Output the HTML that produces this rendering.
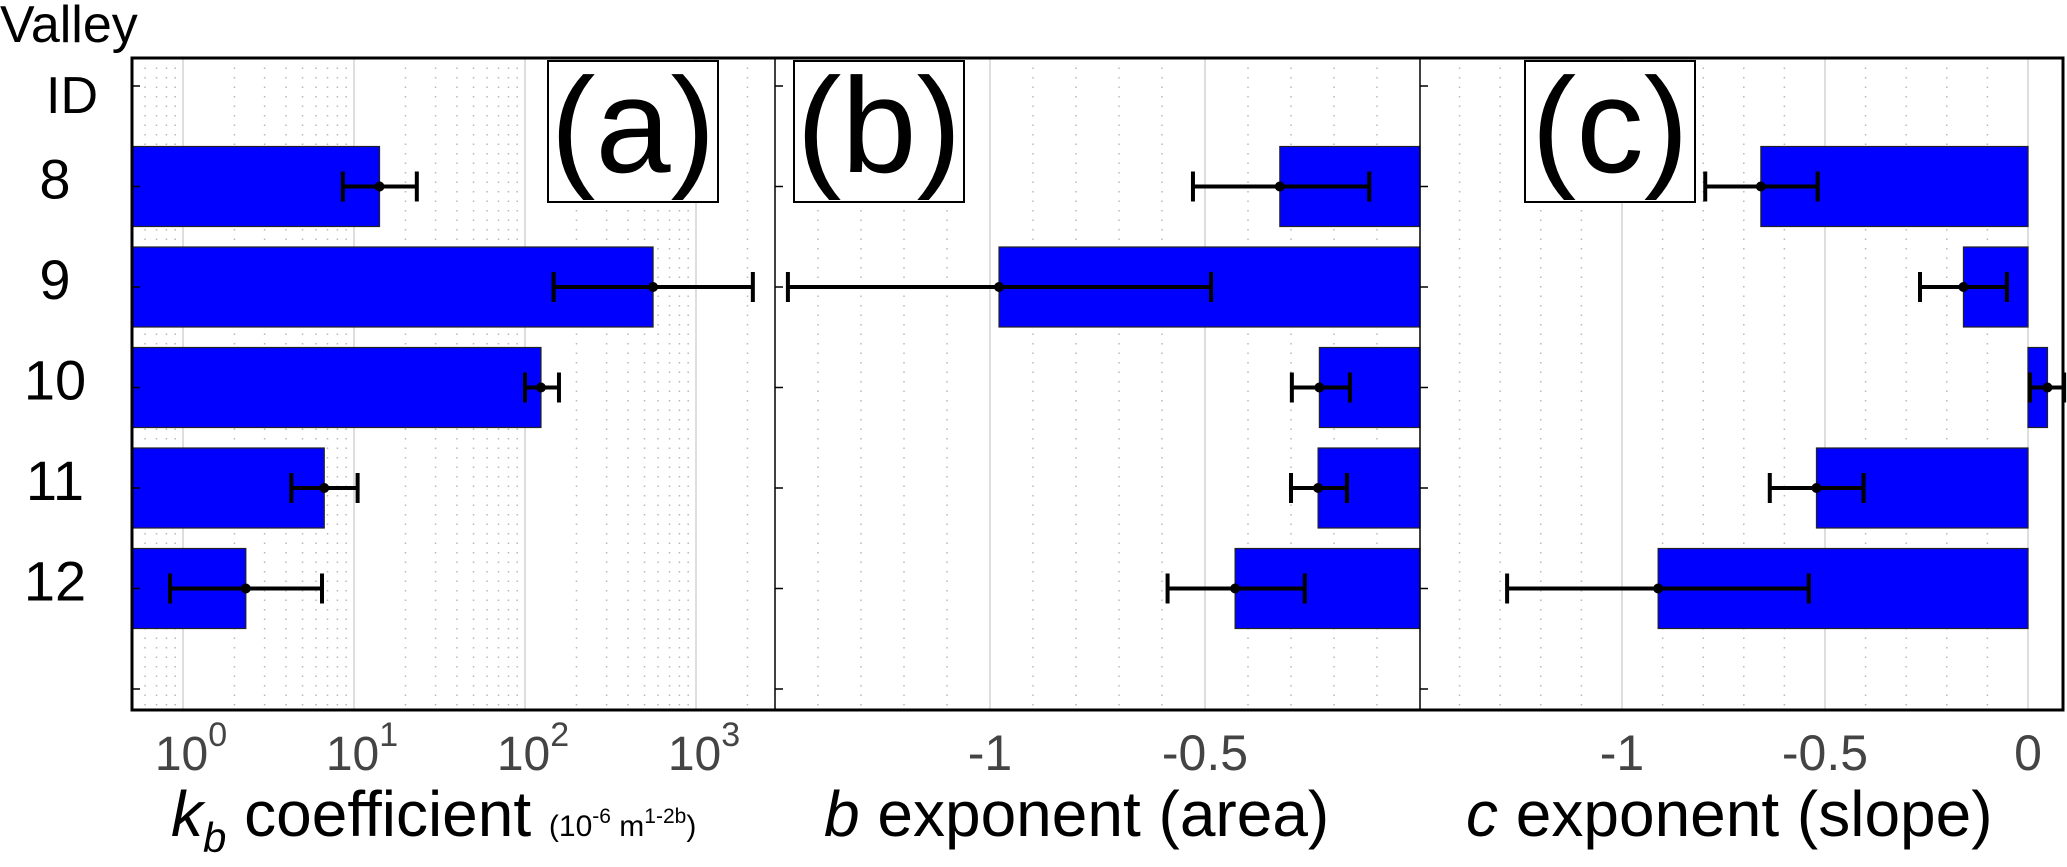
<!DOCTYPE html>
<html><head><meta charset="utf-8">
<style>
html,body{margin:0;padding:0;background:#fff;}
svg{display:block;font-family:"Liberation Sans",sans-serif;}
</style></head>
<body>
<svg id="chart" width="2067" height="867" viewBox="0 0 2067 867" xmlns="http://www.w3.org/2000/svg">
<g id="grid"></g>
<g id="bars"></g>
<g id="errs"></g>
<g id="axes"></g>
<g id="labels"></g>
</svg>
<script>
const valleyIds = ["8","9","10","11","12"];
const kbValues = [14.1, 561, 124, 6.7, 2.33];
const kbLow = [8.6, 147, 100, 4.3, 0.84];
const kbHigh = [23.3, 2150, 158, 10.5, 6.5];
const bValues = [-0.326, -0.979, -0.234, -0.237, -0.43];
const bLow = [-0.528, -1.47, -0.298, -0.3, -0.587];
const bHigh = [-0.118, -0.486, -0.163, -0.17, -0.268];
const cValues = [-0.658, -0.159, 0.048, -0.521, -0.911];
const cLow = [-0.795, -0.266, 0.005, -0.636, -1.283];
const cHigh = [-0.518, -0.052, 0.089, -0.405, -0.54];
const kbTicks = [0, 1, 2, 3];
const bTicks = ["-1", "-0.5"];
const cTicks = ["-1", "-0.5", "0"];

const NS = "http://www.w3.org/2000/svg";
function mk(parent, tag, attrs){const e=document.createElementNS(NS,tag);for(const k in attrs)e.setAttribute(k,attrs[k]);parent.appendChild(e);return e;}
const G=id=>document.getElementById(id);
const TOP=58, BOT=710;
const yRow = i => 86 + (i+1)*100.5;
const BH = 80;
const panels = [
  {name:"kb", left:132, right:775, x:v=>183+171*Math.log10(v), base:132, vals:kbValues, lo:kbLow, hi:kbHigh, label:"(a)", box:[548,61,170,141]},
  {name:"b", left:775, right:1420, x:v=>1420+430*v, base:1420, vals:bValues, lo:bLow, hi:bHigh, label:"(b)", box:[794,61,170,141]},
  {name:"c", left:1420, right:2063, x:v=>2028+406*v, base:2028, vals:cValues, lo:cLow, hi:cHigh, label:"(c)", box:[1525,61,170,141]}
];
const grid=G("grid");
for(let d=-1; d<=3; d++){
  for(let m=1;m<=9;m++){
    const v=m*Math.pow(10,d); const x=panels[0].x(v);
    if(x<=132||x>=775) continue;
    const l=mk(grid,"line",{x1:x,x2:x,y1:TOP,y2:BOT,stroke:m===1?"#d4d4d4":"#b8b8b8","stroke-width":1.5,"stroke-dasharray":m===1?"none":"1.5 8"});
    
    
  }
}
[1,2].forEach(pi=>{
  const p=panels[pi];
  for(let k=-15;k<=1;k++){
    const v=k/10; const x=p.x(v);
    if(x<=p.left+1||x>=p.right-1) continue;
    const major=(k%5===0);
    const l=mk(grid,"line",{x1:x,x2:x,y1:TOP,y2:BOT,stroke:major?"#d4d4d4":"#b8b8b8","stroke-width":1.5,"stroke-dasharray":major?"none":"1.5 8"});
    
    
  }
});
const bars=G("bars"), errs=G("errs");
panels.forEach(p=>{
  p.vals.forEach((v,i)=>{
    const xv=p.x(v), y=yRow(i);
    const x0=Math.min(p.base,xv), w=Math.abs(xv-p.base);
    const r=mk(bars,"rect",{x:x0,y:y-BH/2,width:w,height:BH,fill:"#0000ff",stroke:"#222","stroke-width":1.2});
    
    
    const xl=p.x(p.lo[i]), xh=p.x(p.hi[i]);
    const g=mk(errs,"g",{});
    
    
    mk(g,"line",{x1:xl,x2:xh,y1:y,y2:y,stroke:"#000","stroke-width":4});
    mk(g,"line",{x1:xl,x2:xl,y1:y-15,y2:y+15,stroke:"#000","stroke-width":4});
    mk(g,"line",{x1:xh,x2:xh,y1:y-15,y2:y+15,stroke:"#000","stroke-width":4});
    mk(g,"circle",{cx:xv,cy:y,r:5,fill:"#000"});
  });
});
const axes=G("axes");
const frame=mk(axes,"rect",{x:132,y:TOP,width:1931,height:BOT-TOP,fill:"none",stroke:"#000","stroke-width":3});


[775,1420].forEach(x=>{
  const l=mk(axes,"line",{x1:x,x2:x,y1:TOP,y2:BOT,stroke:"#000","stroke-width":1.5});
  
  
});
panels.forEach(p=>{
  for(let i=-1;i<=5;i++){
    const y=yRow(i);
    const t=mk(axes,"line",{x1:p.left,x2:p.left+8,y1:y,y2:y,stroke:"#000","stroke-width":1.5});
    
    
  }
});
kbTicks.forEach(e=>{
  const x=panels[0].x(Math.pow(10,e));
  const t=mk(axes,"text",{x:x+8,y:770,"text-anchor":"middle","font-size":48,fill:"#444"});
  
  
  t.textContent="10";
  const s=mk(t,"tspan",{dy:-24,"font-size":34});
  s.textContent=String(e);
});
[[1,bTicks],[2,cTicks]].forEach(([pi,arr])=>{
  const p=panels[pi];
  arr.forEach(lbl=>{
    const t=mk(axes,"text",{x:p.x(parseFloat(lbl)),y:770,"text-anchor":"middle","font-size":50,fill:"#444"});
    
    
    t.textContent=lbl;
  });
});
const L=G("labels");
function txt(x,y,s,size,name,extra){const t=mk(L,"text",Object.assign({x:x,y:y,"font-size":size,fill:"#000"},extra||{}));t.textContent=s;return t;}
txt(0,42,"Valley",52,"y-axis-title-valley");
txt(72,113,"ID",52,"y-axis-title-id",{"text-anchor":"middle"});
valleyIds.forEach((id,i)=>{
  txt(55,yRow(i)+12,id,56,"row-label-"+id,{"text-anchor":"middle"});
});
panels.forEach(p=>{
  const [bx,by,bw,bh]=p.box;
  const r=mk(L,"rect",{x:bx,y:by,width:bw,height:bh,fill:"#fff",stroke:"#000","stroke-width":2});
  
  
  txt(bx+bw/2,172,p.label,135,"panel-label-"+p.name,{"text-anchor":"middle"});
});
const ta=txt(171,836,"",64,"x-axis-title-kb");
let s=mk(ta,"tspan",{"font-style":"italic"});s.textContent="k";
s=mk(ta,"tspan",{"font-style":"italic","font-size":42,dy:16});s.textContent="b";
s=mk(ta,"tspan",{dy:-16});s.textContent=" coefficient ";
s=mk(ta,"tspan",{"font-size":30});s.textContent="(10";
s=mk(ta,"tspan",{"font-size":21,dy:-13});s.textContent="-6";
s=mk(ta,"tspan",{"font-size":30,dy:13});s.textContent=" m";
s=mk(ta,"tspan",{"font-size":21,dy:-13});s.textContent="1-2b";
s=mk(ta,"tspan",{"font-size":30,dy:13});s.textContent=")";
const tb=txt(824,836,"",64,"x-axis-title-b");
s=mk(tb,"tspan",{"font-style":"italic"});s.textContent="b";
s=mk(tb,"tspan",{});s.textContent=" exponent (area)";
const tc=txt(1466,836,"",64,"x-axis-title-c");
s=mk(tc,"tspan",{"font-style":"italic"});s.textContent="c";
s=mk(tc,"tspan",{});s.textContent=" exponent (slope)";
</script>
</body></html>
